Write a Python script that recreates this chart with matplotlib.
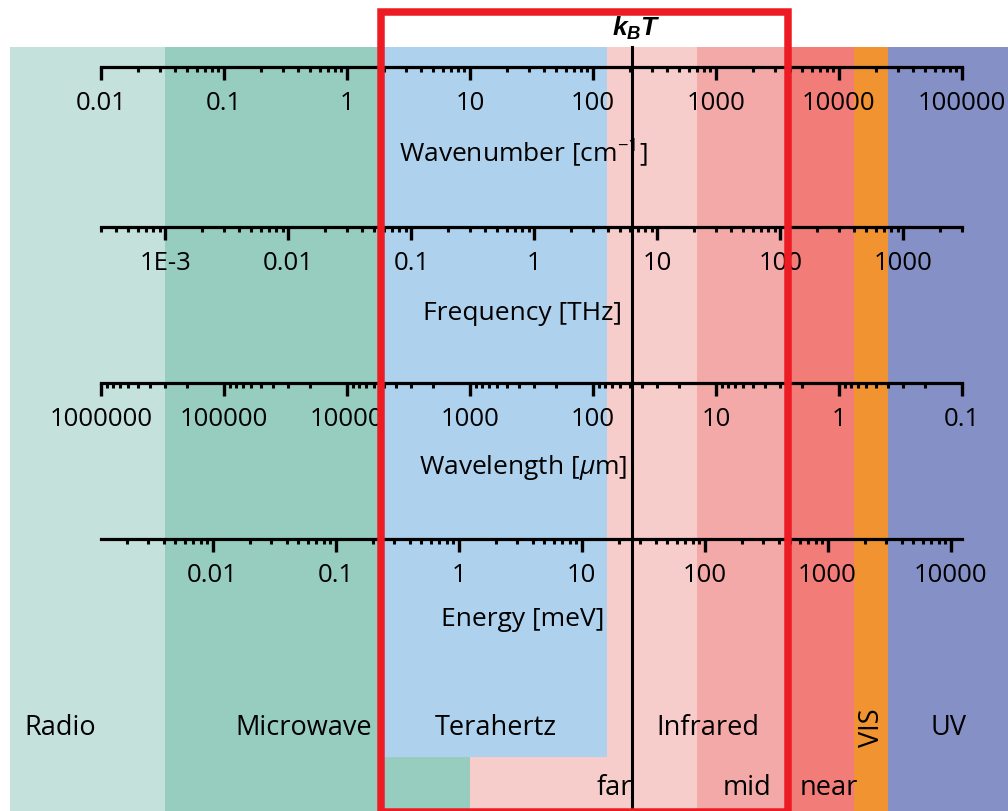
import numpy as np
import matplotlib.pyplot as plt
from matplotlib.patches import Rectangle

plt.rcParams['font.family'] = ['Open Sans', 'DejaVu Sans']
plt.rcParams['mathtext.fontset'] = 'custom'
plt.rcParams['mathtext.rm'] = 'Open Sans'
plt.rcParams['mathtext.it'] = 'Open Sans:italic'
plt.rcParams['mathtext.bf'] = 'Liberation Sans:bold:italic'

# unit conversions to wavenumber (cm^-1)
THZ_TO_CM = 33.35641
MEV_TO_CM = 8.065544

# axis range (cm^-1)
nu_min, nu_max = 0.01, 1e5

# spectral regions, edges in cm^-1
band_names = ['Radio', 'Microwave', 'far IR', 'mid IR', 'near IR', 'VIS', 'UV']
band_edges = [0.00182, 0.0334, 10.0, 700.0, 4000.0, 13333.0, 25000.0, 1e6]
band_colors = ['#c5e1dc', '#96cdbf', '#f6cdcb', '#f3a9a8', '#f27c78', '#f09330', '#8490c6']
thz_edges = [2.0, 130.0]
thz_color = '#aed1ee'
kbt_cm = 208.5          # k_B T at 300 K
highlight = [1.9, 3880.0]

# label positions (cm^-1)
region_labels = ['Radio', 'Microwave', 'Terahertz', 'Infrared', 'UV']
region_label_x = [0.00464, 0.446, 16.3, 861.0, 78300.0]
vis_label_x = 18540.0
ir_sub_labels = ['far', 'mid', 'near']
ir_sub_x = [148.0, 1786.0, 8300.0]

# scale ticks
wn_ticks = [0.01, 0.1, 1, 10, 100, 1000, 10000, 100000]
wn_labels = ['0.01', '0.1', '1', '10', '100', '1000', '10000', '100000']
fr_ticks = [1e-3, 0.01, 0.1, 1, 10, 100, 1000]
fr_labels = ['1E-3', '0.01', '0.1', '1', '10', '100', '1000']
wl_ticks = [1e6, 1e5, 1e4, 1000, 100, 10, 1, 0.1]
wl_labels = ['1000000', '100000', '10000', '1000', '100', '10', '1', '0.1']
en_ticks = [0.01, 0.1, 1, 10, 100, 1000, 10000]
en_labels = ['0.01', '0.1', '1', '10', '100', '1000', '10000']

fig = plt.figure(figsize=(10.08, 8.11), dpi=100)
ax = fig.add_axes([0, 0, 1, 1])
ax.set_xscale('log')
ax.set_xlim(10 ** (-2 - 101 / 123), 10 ** (-2 + 907 / 123))
ax.set_ylim(811, 0)
ax.axis('off')

band_top = 47
for lo, hi, c in zip(band_edges[:-1], band_edges[1:], band_colors):
    ax.add_patch(Rectangle((lo, band_top), hi - lo, 811 - band_top, color=c, lw=0, zorder=1))
ax.add_patch(Rectangle((thz_edges[0], band_top), thz_edges[1] - thz_edges[0], 757 - band_top,
                       color=thz_color, lw=0, zorder=2))

# k_B T line
ax.plot([kbt_cm, kbt_cm], [band_top, 811], color='k', lw=2.2, zorder=5)
ax.annotate(r'$\mathbf{k_BT}$', xy=(kbt_cm, 36), xytext=(3, 0), textcoords='offset points',
            ha='center', va='baseline', fontsize=19, zorder=6)


def draw_scale(y, to_cm, ticks, labels, title, title_y):
    ax.plot([nu_min, nu_max], [y, y], color='k', lw=2.3, zorder=4, solid_capstyle='projecting')
    lo = np.floor(np.log10(min(ticks))) - 1
    hi = np.ceil(np.log10(max(ticks))) + 1
    for d in np.arange(lo, hi + 1):
        for k in range(2, 10):
            x = to_cm(k * 10 ** d)
            if nu_min * 0.999 <= x <= nu_max * 1.001:
                ax.plot([x, x], [y, y + 5], color='k', lw=2.2, zorder=4, solid_capstyle='butt')
    for t, lab in zip(ticks, labels):
        x = to_cm(t)
        ax.plot([x, x], [y, y + 13], color='k', lw=2.4, zorder=4, solid_capstyle='butt')
        ax.text(x, y + 36, lab, ha='center', va='center', fontsize=18.5, zorder=4)
    ax.text(np.sqrt(nu_min * nu_max) * 0.85, title_y, title, ha='center', va='center',
            fontsize=19, zorder=4)


draw_scale(67, lambda v: v, wn_ticks, wn_labels, r'Wavenumber [cm$^{-1}$]', 153)
draw_scale(227, lambda v: v * THZ_TO_CM, fr_ticks, fr_labels, 'Frequency [THz]', 313)
draw_scale(383, lambda v: 1e4 / v, wl_ticks, wl_labels, r'Wavelength [$\mu$m]', 467)
draw_scale(539, lambda v: v * MEV_TO_CM, en_ticks, en_labels, 'Energy [meV]', 620)

for name, x in zip(region_labels, region_label_x):
    ax.text(x, 728, name, ha='center', va='center', fontsize=19.5, zorder=4)
ax.text(vis_label_x, 728, 'VIS', ha='center', va='center', rotation=90, fontsize=19.5, zorder=4)
for name, x in zip(ir_sub_labels, ir_sub_x):
    ax.text(x, 788, name, ha='center', va='center', fontsize=19.5, zorder=4)

# highlighted range
ax.add_patch(Rectangle((highlight[0], 12), highlight[1] - highlight[0], 800,
                       fill=False, edgecolor='#ed1c24', lw=5.4, zorder=8))

fig.savefig('out.png', dpi=100)
